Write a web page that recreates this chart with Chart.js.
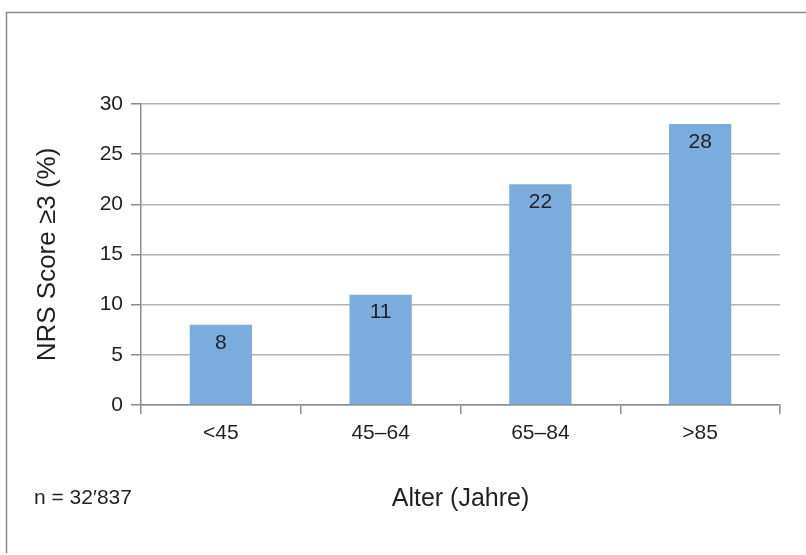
<!DOCTYPE html>
<html>
<head>
<meta charset="utf-8">
<script src="https://cdn.jsdelivr.net/npm/chart.js@4/dist/chart.umd.min.js"></script>
<style>
  html, body { margin: 0; padding: 0; background: #fff; }
  #wrap { width: 806px; height: 555px; position: relative; }
</style>
</head>
<body>
<div id="wrap"><canvas id="c" width="806" height="555"></canvas></div>
<script>
// Age groups and share of patients with NRS score >= 3
const ageGroups = ['<45', '45–64', '65–84', '>85'];
const nrsPercent = [8, 11, 22, 28];
const yTicks = [0, 5, 10, 15, 20, 25, 30];
const sampleNote = 'n = 32′837';
const xTitle = 'Alter (Jahre)';
const yTitle = 'NRS Score ≥3 (%)';

const FONT = '"Liberation Sans", Arial, Helvetica, sans-serif';
const TEXT = '#231f20';
const AXIS = '#8c8c8c';
const GRID = '#b4b4b4';

// Outer frame and sample size note
const framePlugin = {
  id: 'frame',
  beforeDraw(chart) {
    const ctx = chart.ctx;
    ctx.save();
    ctx.strokeStyle = '#8a8a8a';
    ctx.lineWidth = 1.5;
    ctx.beginPath();
    ctx.moveTo(6.5, 553);
    ctx.lineTo(6.5, 12.5);
    ctx.lineTo(806, 12.5);
    ctx.stroke();
    ctx.restore();
  },
  afterDraw(chart) {
    const ctx = chart.ctx;
    ctx.save();
    ctx.fillStyle = TEXT;
    ctx.font = '21px ' + FONT;
    ctx.textAlign = 'left';
    ctx.textBaseline = 'middle';
    ctx.fillText(sampleNote, 34, 498);
    ctx.restore();
  }
};

// Value labels inside the top of each bar
const valueLabels = {
  id: 'valueLabels',
  afterDatasetsDraw(chart) {
    const ctx = chart.ctx;
    const meta = chart.getDatasetMeta(0);
    ctx.save();
    ctx.fillStyle = TEXT;
    ctx.font = '21px ' + FONT;
    ctx.textAlign = 'center';
    ctx.textBaseline = 'middle';
    meta.data.forEach((bar, i) => {
      ctx.fillText(String(nrsPercent[i]), bar.x, bar.y + 18);
    });
    ctx.restore();
  }
};

new Chart(document.getElementById('c'), {
  type: 'bar',
  data: {
    labels: ageGroups,
    datasets: [{
      data: nrsPercent,
      backgroundColor: '#7aaddd',
      borderWidth: 0,
      categoryPercentage: 1,
      barPercentage: 0.39
    }]
  },
  options: {
    responsive: false,
    animation: false,
    devicePixelRatio: 1,
    layout: { padding: { top: 104, right: 26, bottom: 0, left: 0 } },
    plugins: { legend: { display: false }, tooltip: { enabled: false } },
    scales: {
      x: {
        offset: true,
        grid: {
          offset: true,
          drawOnChartArea: true,
          tickLength: 9,
          lineWidth: 1.5,
          color: (c) => (c.index === ageGroups.length ? AXIS : 'rgba(0,0,0,0)'),
          tickColor: AXIS
        },
        border: { display: true, color: AXIS, width: 1.5 },
        ticks: { color: TEXT, font: { family: FONT, size: 21 }, padding: 7 },
        title: {
          display: true,
          text: xTitle,
          color: TEXT,
          font: { family: FONT, size: 25 },
          padding: { top: 0, bottom: 41 }
        },
        afterFit(scale) { scale.height = 150; }
      },
      y: {
        min: 0,
        max: 30,
        afterBuildTicks(scale) { scale.ticks = yTicks.map(v => ({ value: v })); },
        grid: {
          color: GRID,
          lineWidth: 1.5,
          tickLength: 10,
          tickColor: AXIS
        },
        border: { display: true, color: AXIS, width: 1.5 },
        ticks: { color: TEXT, font: { family: FONT, size: 21 }, padding: 8 },
        title: {
          display: true,
          text: yTitle,
          color: TEXT,
          font: { family: FONT, size: 26 },
          padding: { top: 32, bottom: 0 }
        },
        afterFit(scale) { scale.width = 141; }
      }
    }
  },
  plugins: [framePlugin, valueLabels]
});
</script>
</body>
</html>
